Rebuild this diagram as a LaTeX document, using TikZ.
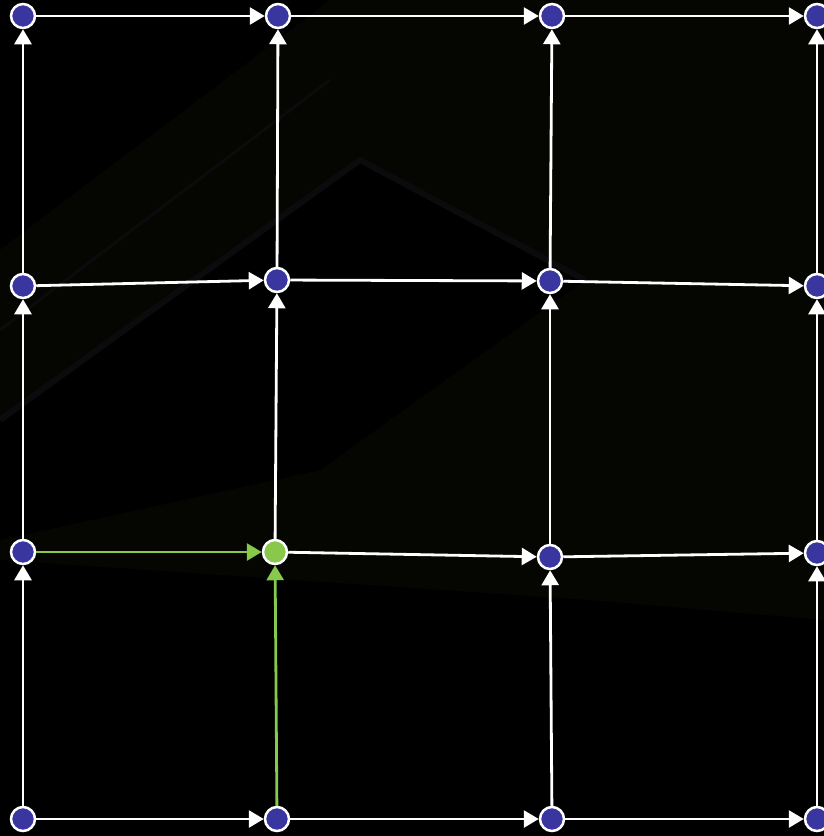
\documentclass[tikz,border=0pt]{standalone}
\usepackage{tikz}
\usetikzlibrary{arrows.meta, calc}
\definecolor{cNode}{RGB}{58,54,160}
\definecolor{cHit}{RGB}{136,200,74}
\definecolor{cShade}{RGB}{5,6,2}
\definecolor{cBand}{RGB}{11,11,13}
\tikzset{
  gridnode/.style={circle, draw=white, line width=2.5pt, fill=cNode,
                   minimum size=24pt, inner sep=0pt},
  hitnode/.style={gridnode, fill=cHit},
  edge/.style={-{Triangle[length=15pt, width=17pt]}, draw=white, line width=2.8pt},
  hitedge/.style={edge, draw=cHit}
}

\begin{document}
\begin{tikzpicture}[x=1pt, y=-1pt]
  % Background
  \fill[black] (0,0) rectangle (824,836);
  \useasboundingbox (0,0) rectangle (824,836);
  \fill[cShade] (0,250) -- (330,0) -- (824,0) -- (824,620) -- (590,600)
     -- (0,560) -- cycle;
  \fill[black] (0,420) -- (360,160) -- (585,280) -- (320,470) -- (0,540) -- cycle;
  \draw[cBand, line width=6pt] (0,420) -- (360,160) -- (585,280);
  \draw[cBand, line width=3pt] (0,330) -- (330,80);

  % Nodes (row a = top)
  \node[gridnode] (a0) at (23,16) {};
  \node[gridnode] (a1) at (278,16) {};
  \node[gridnode] (a2) at (552,16) {};
  \node[gridnode] (a3) at (817,16) {};
  \node[gridnode] (b0) at (23,286) {};
  \node[gridnode] (b1) at (277,280) {};
  \node[gridnode] (b2) at (550,281) {};
  \node[gridnode] (b3) at (817,286) {};
  \node[gridnode] (c0) at (23,552) {};
  \node[hitnode]  (c1) at (275,552) {};
  \node[gridnode] (c2) at (550,557) {};
  \node[gridnode] (c3) at (817,553) {};
  \node[gridnode] (d0) at (23,819) {};
  \node[gridnode] (d1) at (277,819) {};
  \node[gridnode] (d2) at (552,819) {};
  \node[gridnode] (d3) at (817,819) {};

  % Rightward edges
  \foreach \r in {a,b,d}
    \foreach \i/\j in {0/1,1/2,2/3}
      \draw[edge] (\r\i) -- (\r\j);
  \draw[hitedge] (c0) -- (c1);
  \foreach \i/\j in {1/2,2/3}
    \draw[edge] (c\i) -- (c\j);

  % Upward edges
  \foreach \c in {0,1,2,3}
    \foreach \lo/\hi in {b/a,c/b}
      \draw[edge] (\lo\c) -- (\hi\c);
  \foreach \c in {0,2,3}
    \draw[edge] (d\c) -- (c\c);
  \draw[hitedge] (d1) -- (c1);
\end{tikzpicture}
\end{document}
